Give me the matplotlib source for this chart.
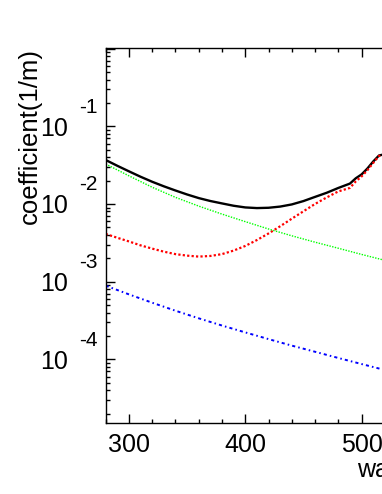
import matplotlib
matplotlib.use("Agg")
import matplotlib.pyplot as plt
from matplotlib.ticker import MultipleLocator, LogLocator, NullFormatter
import matplotlib.transforms as mtransforms

plt.rcParams['font.family'] = ['Liberation Sans', 'DejaVu Sans']

# wavelength (nm) for the total and absorption curves
wl_fine = [280, 290, 300, 310, 320, 330, 340, 350, 360, 370, 380, 390, 400, 410,
           420, 430, 440, 450, 460, 470, 480, 490, 495, 500, 505, 510, 515, 520]
# attenuation coefficients (1/m)
total = [0.0368, 0.0310, 0.0263, 0.0224, 0.0193, 0.01687, 0.0149, 0.01324, 0.0119,
         0.01091, 0.01016, 0.00948, 0.00902, 0.00885, 0.00893, 0.00925, 0.00986,
         0.01089, 0.01233, 0.01393, 0.01607, 0.0183, 0.0214, 0.0240, 0.0286,
         0.0352, 0.0421, 0.0437]
absorb = [0.00411, 0.00367, 0.00329, 0.00293, 0.00266, 0.00243, 0.00226, 0.00216,
          0.00210, 0.00214, 0.00226, 0.00251, 0.00288, 0.00343, 0.00417, 0.00516,
          0.00646, 0.00804, 0.0100, 0.01213, 0.0145, 0.0161, 0.0195, 0.0226,
          0.0272, 0.0337, 0.0415, 0.0430]

# wavelength (nm) for the scattering curves
wl = [280, 300, 320, 340, 360, 380, 400, 420, 440, 460, 480, 500, 520]
rayleigh = [0.0327, 0.0230, 0.0164, 0.01216, 0.00938, 0.0074, 0.00592, 0.00476,
            0.00389, 0.00322, 0.00269, 0.00224, 0.00188]
mie = [8.87e-4, 6.85e-4, 5.35e-4, 4.22e-4, 3.37e-4, 2.72e-4, 2.22e-4, 1.82e-4,
       1.50e-4, 1.25e-4, 1.04e-4, 8.69e-5, 7.28e-5]

xticks = [300, 400, 500]
ydecades = [-1, -2, -3, -4]

W, H = 382, 494
fig = plt.figure(figsize=(W / 100, H / 100), dpi=100)
# frame: left 105.7px, bottom 423.3px, top 48.3px; x axis continues past the right edge
ax = fig.add_axes([105.7 / W, 1 - 423.3 / H, 604.8 / W, (423.3 - 48.3) / H])
ax.set_xlim(280, 800)
ax.set_yscale('log')
ax.set_ylim(10 ** -4.824, 10 ** 0.004)

ax.plot(wl_fine, total, color='black', lw=1.7)
ax.plot(wl_fine, absorb, color='#ff0000', lw=1.6, dashes=(1, 1))
ax.plot(wl, rayleigh, color='#00ff00', lw=1.0, dashes=(1, 1))
ax.plot(wl, mie, color='#0000ff', lw=1.4, dashes=(1.6, 1.6, 0.8, 1.6))

for s in ax.spines.values():
    s.set_linewidth(1.0)
ax.xaxis.set_major_locator(MultipleLocator(100))
ax.xaxis.set_minor_locator(MultipleLocator(20))
ax.yaxis.set_major_locator(LogLocator(base=10))
ax.yaxis.set_minor_locator(LogLocator(base=10, subs=range(2, 10)))
ax.xaxis.set_major_formatter(NullFormatter())
ax.yaxis.set_major_formatter(NullFormatter())
ax.yaxis.set_minor_formatter(NullFormatter())
ax.tick_params(which='both', direction='in', top=True, right=False, width=1.0)
ax.tick_params(which='major', length=6.5)
ax.tick_params(which='minor', length=3.2)

# x tick labels
tx = mtransforms.blended_transform_factory(ax.transData, fig.transFigure)
for v in xticks:
    ax.text(v, 1 - 452 / H, str(v), transform=tx, ha='center', va='baseline',
            fontsize=18, clip_on=False)

# y tick labels in ROOT style: "10" with exponent above right
ty = mtransforms.blended_transform_factory(fig.transFigure, ax.transData)
for k in ydecades:
    ax.text(68 / W, 10 ** (k - 9.5 / 77.67), '10', transform=ty, ha='right',
            va='baseline', fontsize=18, clip_on=False)
    ax.text(79.5 / W, 10 ** (k + 13.5 / 77.67), str(k), transform=ty, ha='left',
            va='baseline', fontsize=15, clip_on=False)

fig.text(36.7 / W, 1 - 48.3 / H, 'coefficient(1/m)', rotation=90,
         rotation_mode='anchor', ha='right', va='baseline', fontsize=18.5)
fig.text(357.5 / W, 1 - 476.7 / H, 'wavelength(nm)', ha='left', va='baseline',
         fontsize=18)

fig.savefig('out.png', dpi=100)
